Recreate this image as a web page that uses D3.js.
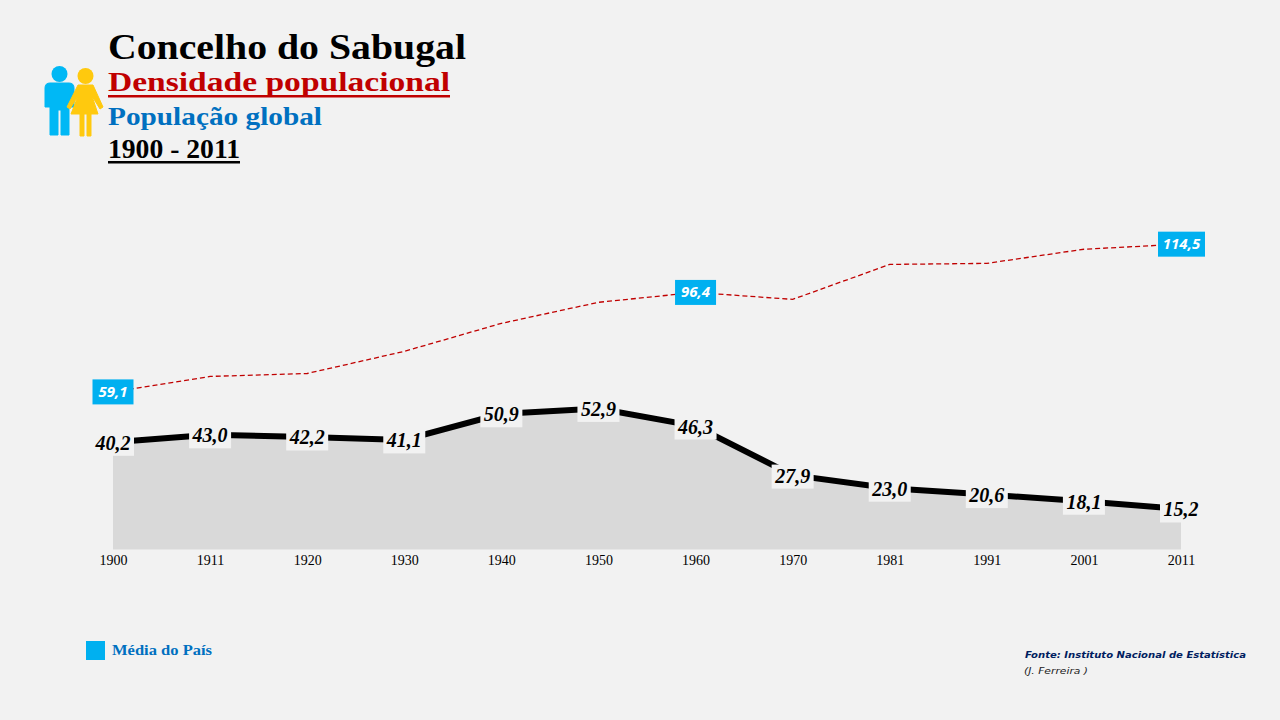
<!DOCTYPE html>
<html>
<head>
<meta charset="utf-8">
<script src="https://cdnjs.cloudflare.com/ajax/libs/d3/7.8.5/d3.min.js"></script>
<style>
  html, body { margin: 0; padding: 0; background: #f2f2f2; }
  svg { display: block; }
  .serif { font-family: "Liberation Serif", serif; font-weight: bold; }
  .axis text { font-family: "Liberation Serif", serif; font-size: 14px; fill: #000; }
</style>
</head>
<body>
<div id="chart"></div>
<script>
// categories and series
var years = ["1900","1911","1920","1930","1940","1950","1960","1970","1981","1991","2001","2011"];
var concelho = [40.2,43.0,42.2,41.1,50.9,52.9,46.3,27.9,23.0,20.6,18.1,15.2];
var pais = [59.1,64.9,66.0,74.3,84.8,92.7,96.4,93.8,106.9,107.3,112.6,114.5];
var paisLabelled = ["1900","1960","2011"];

var width = 1280, height = 720;
var fmt = function(v){ return v.toFixed(1).replace(".", ","); };

var svg = d3.select("#chart").append("svg")
    .attr("width", width)
    .attr("height", height);

var x = d3.scalePoint().domain(years).range([113, 1181]);
var y = d3.scaleLinear().domain([0, 120]).range([549.5, 229.5]);

// grey area under the concelho line
var area = d3.area()
    .x(function(d, i){ return x(years[i]); })
    .y0(y(0))
    .y1(function(d){ return y(d); });
svg.append("path").datum(concelho)
    .attr("d", area)
    .attr("fill", "#d9d9d9");

// national average, dashed
var line = d3.line()
    .x(function(d, i){ return x(years[i]); })
    .y(function(d){ return y(d); });
svg.append("path").datum(pais)
    .attr("d", line)
    .attr("fill", "none")
    .attr("stroke", "#c00000")
    .attr("stroke-width", 1.3)
    .attr("stroke-dasharray", "5,3");

svg.append("path").datum(concelho)
    .attr("d", line)
    .attr("fill", "none")
    .attr("stroke", "#000")
    .attr("stroke-width", 6);

// x axis
var xAxis = d3.axisBottom(x).tickSize(0).tickPadding(6);
svg.append("g")
    .attr("class", "axis")
    .attr("transform", "translate(0," + y(0) + ")")
    .call(xAxis)
    .call(function(g){ g.select(".domain").remove(); });

// value labels on the black line
var lab = svg.selectAll("g.vlabel")
    .data(concelho)
  .enter().append("g")
    .attr("class", "vlabel")
    .attr("transform", function(d, i){ return "translate(" + x(years[i]) + "," + (y(d) + 1.5) + ")"; });
lab.append("rect")
    .attr("x", -21).attr("y", -12)
    .attr("width", 42).attr("height", 24)
    .attr("fill", "#f2f2f2");
lab.append("text")
    .attr("text-anchor", "middle")
    .attr("dy", 6)
    .attr("font-family", "Liberation Serif, serif")
    .attr("font-style", "italic")
    .attr("font-weight", "bold")
    .attr("font-size", 20)
    .attr("fill", "#000")
    .text(function(d){ return fmt(d); });

// blue labels on the dashed line
var blue = svg.selectAll("g.plabel")
    .data(paisLabelled)
  .enter().append("g")
    .attr("class", "plabel")
    .attr("transform", function(d){
      return "translate(" + x(d) + "," + y(pais[years.indexOf(d)]) + ")";
    });
blue.append("rect")
    .attr("x", function(d){ return d == "2011" ? -23 : -20.5; })
    .attr("y", -12.5)
    .attr("width", function(d){ return d == "2011" ? 47 : 41; })
    .attr("height", 25)
    .attr("fill", "#00b0f0");
blue.append("text")
    .attr("text-anchor", "middle")
    .attr("dy", 5)
    .attr("x", function(d){ return d == "2011" ? 0.5 : 0; })
    .attr("font-family", "Open Sans, sans-serif")
    .attr("font-style", "italic")
    .attr("font-weight", "bold")
    .attr("font-size", 15)
    .attr("fill", "#fff")
    .text(function(d){ return fmt(pais[years.indexOf(d)]); });

// titles, textLength keeps them to the width of the original font
function title(txt, xp, yp, size, w, color, underline){
  svg.append("text")
      .attr("class", "serif")
      .attr("x", xp).attr("y", yp)
      .attr("font-size", size)
      .attr("fill", color)
      .attr("textLength", w)
      .attr("lengthAdjust", "spacingAndGlyphs")
      .text(txt);
  if(underline){
    svg.append("rect")
      .attr("x", xp).attr("y", yp + underline)
      .attr("width", w).attr("height", 2.5)
      .attr("fill", color);
  }
}
title("Concelho do Sabugal", 108, 58.5, 36, 358, "#000");
title("Densidade populacional", 108, 91, 27.5, 342, "#c00000", 4);
title("População global", 108, 125, 26, 214, "#0070c0");
title("1900 - 2011", 108, 158, 27, 132, "#000", 3);

// man and woman icon
var icon = svg.append("g")
    .attr("stroke-width", 1)
    .attr("stroke-linejoin", "round");
icon.append("circle").attr("cx", 59.5).attr("cy", 74).attr("r", 8)
    .attr("fill", "#00b8f5");
icon.append("path")
    .attr("d", "M50 83 H69 Q74 83 74 88 V107 H69 V135 H61 V110 H58 V135 H50 V107 H45 V88 Q45 83 50 83 Z")
    .attr("fill", "#00b8f5").attr("stroke", "#00b8f5");
icon.append("circle").attr("cx", 85.5).attr("cy", 76).attr("r", 8)
    .attr("fill", "#ffc90e");
icon.append("path")
    .attr("d", "M78 85 H93 L103 107 L100 109 L92 96 L98 114 H91 V136 H87 V114 H84 V136 H80 V114 H71 L78 96 L70 109 L67 107 Z")
    .attr("fill", "#ffc90e").attr("stroke", "#ffc90e");

// legend
svg.append("rect")
    .attr("x", 86).attr("y", 641)
    .attr("width", 19).attr("height", 19)
    .attr("fill", "#00b0f0");
svg.append("text")
    .attr("class", "serif")
    .attr("x", 112).attr("y", 655)
    .attr("font-size", 15.5)
    .attr("fill", "#0070c0")
    .attr("textLength", 100)
    .attr("lengthAdjust", "spacingAndGlyphs")
    .text("Média do País");

// source
svg.append("text")
    .attr("x", 1025).attr("y", 658)
    .attr("font-family", "DejaVu Sans, sans-serif")
    .attr("font-style", "italic")
    .attr("font-weight", "bold")
    .attr("font-size", 9.5)
    .attr("fill", "#002060")
    .attr("textLength", 221)
    .attr("lengthAdjust", "spacingAndGlyphs")
    .text("Fonte: Instituto Nacional de Estatística");
svg.append("text")
    .attr("x", 1024).attr("y", 674)
    .attr("font-family", "DejaVu Sans, sans-serif")
    .attr("font-style", "italic")
    .attr("font-size", 9.5)
    .attr("fill", "#222")
    .attr("textLength", 64)
    .attr("lengthAdjust", "spacingAndGlyphs")
    .text("(J. Ferreira )");
</script>
</body>
</html>
